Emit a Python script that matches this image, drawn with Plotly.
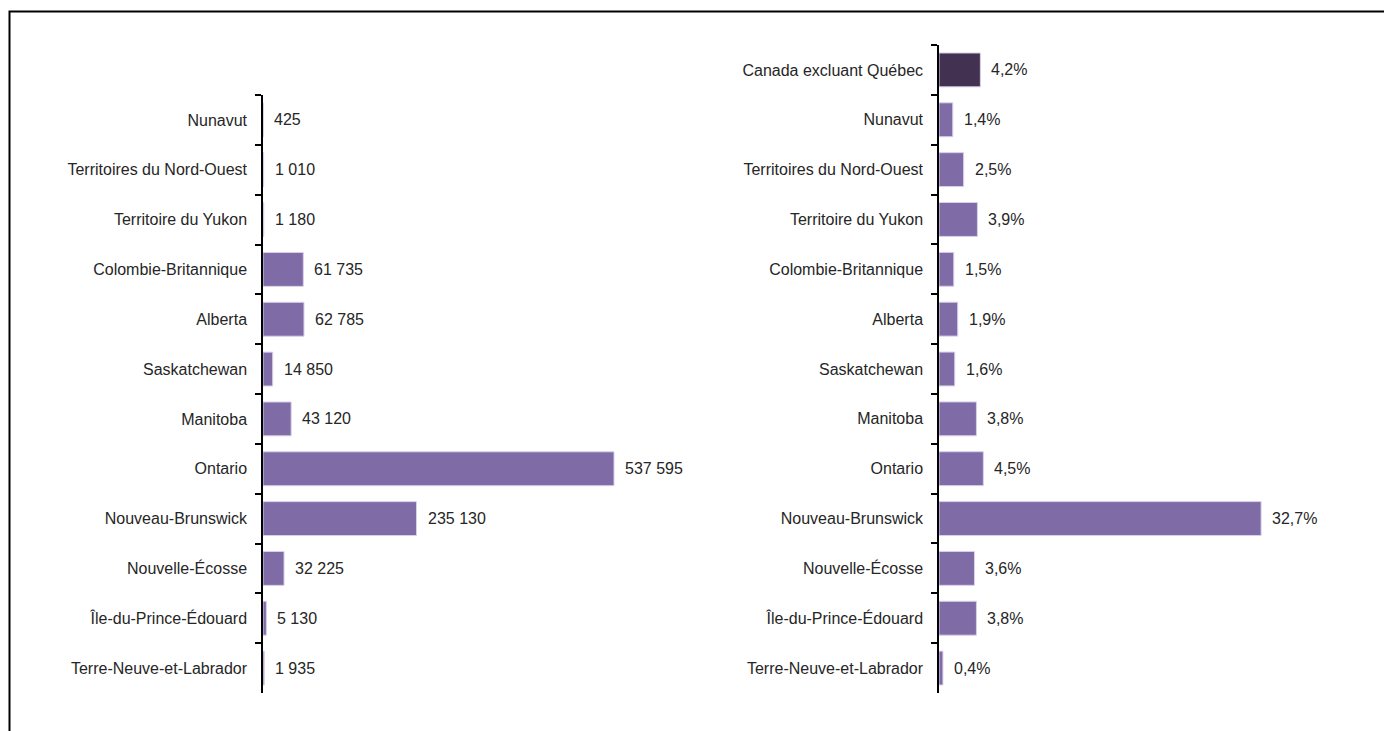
import plotly.graph_objects as go

# Data (top to bottom order)
left_categories = ["Nunavut", "Territoires du Nord-Ouest", "Territoire du Yukon",
                   "Colombie-Britannique", "Alberta", "Saskatchewan", "Manitoba",
                   "Ontario", "Nouveau-Brunswick", "Nouvelle-Écosse",
                   "Île-du-Prince-Édouard", "Terre-Neuve-et-Labrador"]
left_values = [425, 1010, 1180, 61735, 62785, 14850, 43120, 537595, 235130, 32225, 5130, 1935]

right_categories = ["Canada excluant Québec"] + left_categories
right_values = [4.2, 1.4, 2.5, 3.9, 1.5, 1.9, 1.6, 3.8, 4.5, 32.7, 3.6, 3.8, 0.4]

W, H = 1384, 731
FONT = "Liberation Sans Narrow, Arial Narrow, Liberation Sans, Arial, sans-serif"
TXT = "#262626"
BAR = "#7F6BA6"
DARK = "#433151"


def fmt_int(v):
    return f"{v:,}".replace(",", " ")


def fmt_pct(v):
    return f"{v:.1f}%".replace(".", ",")


def px_x(p):
    return p / W


def px_y(p):
    return 1 - p / H


fig = go.Figure()

fig.add_trace(go.Bar(
    x=left_values, y=left_categories, orientation="h",
    marker=dict(color=BAR, line=dict(color="#D9D0EA", width=1)),
    width=0.68, xaxis="x", yaxis="y", hoverinfo="skip", showlegend=False,
))

right_colors = [DARK] + [BAR] * (len(right_values) - 1)
fig.add_trace(go.Bar(
    x=right_values, y=right_categories, orientation="h",
    marker=dict(color=right_colors, line=dict(color="#D9D0EA", width=1)),
    width=0.68, xaxis="x2", yaxis="y2", hoverinfo="skip", showlegend=False,
))

annotations = []
for c, v in zip(left_categories, left_values):
    annotations.append(dict(x=v, y=c, xref="x", yref="y", text=fmt_int(v),
                            showarrow=False, xanchor="left", xshift=9,
                            font=dict(family=FONT, size=16, color=TXT)))
for c, v in zip(right_categories, right_values):
    annotations.append(dict(x=v, y=c, xref="x2", yref="y2", text=fmt_pct(v),
                            showarrow=False, xanchor="left", xshift=9,
                            font=dict(family=FONT, size=16, color=TXT)))

# Left panel: axis at x=263px, scale 351px per 537595
left_x0 = 263
left_range = 650000
left_w = left_range * 351 / 537595
# Right panel: axis at x=939px, scale 9.85px per %
right_x0 = 939
right_range = 40
right_w = right_range * 9.85

yaxis_common = dict(
    type="category", autorange="reversed", showline=True, linecolor="black",
    linewidth=1.5, ticks="outside", tickson="boundaries", ticklen=6,
    tickcolor="black", tickwidth=1.5, showgrid=False, zeroline=False,
    tickfont=dict(family=FONT, size=16, color=TXT), ticklabelstandoff=11,
    fixedrange=True,
)
xaxis_common = dict(showgrid=False, zeroline=False, showticklabels=False,
                    showline=False, ticks="", fixedrange=True)

fig.update_layout(
    width=W, height=H,
    margin=dict(l=0, r=0, t=0, b=0),
    paper_bgcolor="white", plot_bgcolor="white",
    font=dict(family=FONT, size=16, color=TXT),
    bargap=0.32,
    xaxis=dict(domain=[px_x(left_x0), px_x(left_x0 + left_w)], range=[0, left_range],
               anchor="y", **xaxis_common),
    yaxis=dict(domain=[px_y(693), px_y(95)], anchor="x",
               categoryorder="array", categoryarray=left_categories, **yaxis_common),
    xaxis2=dict(domain=[px_x(right_x0), px_x(right_x0 + right_w)], range=[0, right_range],
                anchor="y2", **xaxis_common),
    yaxis2=dict(domain=[px_y(693), px_y(45)], anchor="x2",
                categoryorder="array", categoryarray=right_categories, **yaxis_common),
    annotations=annotations,
    shapes=[dict(type="rect", xref="paper", yref="paper",
                 x0=px_x(9.5), x1=px_x(W + 20), y0=px_y(11.5), y1=px_y(H + 20),
                 line=dict(color="black", width=2), fillcolor="rgba(0,0,0,0)",
                 layer="above")],
)

fig.write_html("out.html", config={"displayModeBar": False},
               post_script="document.body.style.margin='0';document.body.style.overflow='hidden';")
